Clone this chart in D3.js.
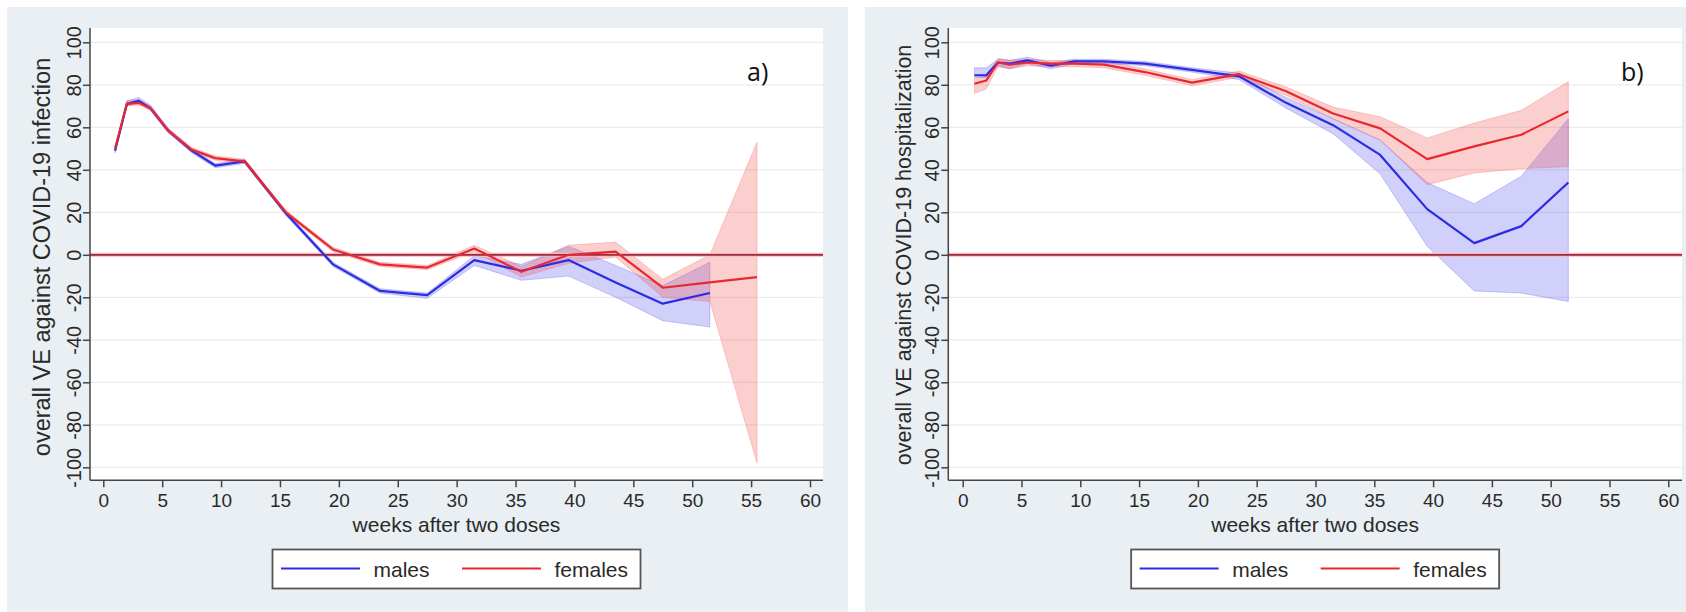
<!DOCTYPE html>
<html><head><meta charset="utf-8">
<script src="https://cdn.jsdelivr.net/npm/d3@7"></script>
<style>body{margin:0;background:#fff}svg{display:block}</style>
</head><body>
<svg id="c" width="1686" height="612"></svg>
<script>
// ---------- data ----------
const xTicks = [0,5,10,15,20,25,30,35,40,45,50,55,60];
const yTicks = [-100,-80,-60,-40,-20,0,20,40,60,80,100];
const seriesNames = ["males","females"];
const panelLabels = ["a)","b)"];
const yTitles = ["overall VE against COVID-19 infection","overall VE against COVID-19 hospitalization"];
const xTitle = "weeks after two doses";

// panel a: infection
const weeksA_m = [1,2,3,4,5.5,7.5,9.5,12,15.5,19.5,23.5,27.5,31.5,35.5,39.5,43.5,47.5,51.5];
const veA_m    = [49,71,72.5,69,58.5,49,42,44,19.5,-4.5,-17,-19,-2.5,-7.5,-2.5,-13,-23,-18];
const loA_m    = [48,70,71.5,68,57.5,48,41,43,18.5,-5.5,-18,-20.5,-5,-12,-10,-20,-31,-34];
const hiA_m    = [50.5,72.5,74,70.5,59.5,50,43,45,20.5,-3.5,-16,-18,-0.5,-4.5,4,-5,-14.5,-3.5];
const weeksA_f = [1,2,3,4,5.5,7.5,9.5,12,15.5,19.5,23.5,27.5,31.5,35.5,39.5,43.5,47.5,51.5,55.5];
const veA_f    = [50,71,71.5,69,58.5,49.5,45.5,44,20,2.5,-4.5,-6,3,-8,0,1.5,-15.5,-13,-10.5];
const loA_f    = [49,70,70.5,68,57.5,48.5,44.5,43,19,1.5,-5.5,-7,1.5,-10.5,-4,-1,-20,-22,-98];
const hiA_f    = [51,72.5,73,70,59.5,50.5,46.5,45,21,3.5,-3.5,-5,4.5,-5.5,4.5,6,-11.5,0,53];

// panel b: hospitalization
const weeksB = [1,2,3,4,5.5,7.5,9.5,12,15.5,19.5,23.5,27.5,31.5,35.5,39.5,43.5,47.5,51.5];
const veB_m  = [84.5,84.5,90.5,90,91.5,89,91,91,90,87,84,71.5,61,47,21.5,5.5,13.5,34];
const loB_m  = [83.5,83.5,89,87.5,90,87.5,90,90,89,86,82.5,69,57,38,4,-17,-18,-22];
const hiB_m  = [88,88,92,91.5,93,90.5,92,92,91,88,85.5,74,64,54,34,24,37,64];
const veB_f  = [80.5,82,90.5,89.5,90.5,90,90,89.5,86,81,85,77,66.5,59.5,45,51,56.5,67.5];
const loB_f  = [76,78,88.5,87.5,89,88.5,88.5,88,84.5,79.5,83.5,75,64,54,33,38.5,40.5,41.5];
const hiB_f  = [83,84,92.5,91.5,92,91.5,91.5,91,87.5,82.5,86.5,79,69.5,65,55,62,68,81.5];

// ---------- drawing ----------
const svg = d3.select("#c");
const FONT = "'Liberation Sans', Arial, sans-serif";
const colM = "#2b2be6", colF = "#e8282e";
const bandM = "rgba(60,60,235,0.24)", bandF = "rgba(245,70,70,0.26)";

function zip(w, v, lo, hi){ return w.map((d,i)=>({x:d, y:v[i], lo:lo[i], hi:hi[i]})); }

function panel(cfg){
  const g = svg.append("g");
  g.append("rect").attr("x",cfg.bgX0).attr("y",7).attr("width",cfg.bgX1-cfg.bgX0).attr("height",612-7).attr("fill","#e9eff2");
  const x = d3.scaleLinear().domain([0,60]).range([cfg.x0, cfg.x60]);
  const y = d3.scaleLinear().domain([-100,100]).range([467.3, 42.3]);
  const top = 28, bottom = 480.3;
  g.append("rect").attr("x",cfg.axX).attr("y",top).attr("width",cfg.right-cfg.axX).attr("height",bottom-top).attr("fill","#fff");
  // grid
  g.selectAll(".grid").data(yTicks).join("line")
    .attr("x1",cfg.axX).attr("x2",cfg.right).attr("y1",d=>y(d)).attr("y2",d=>y(d))
    .attr("stroke","#ececec").attr("stroke-width",1.3);
  // bands
  const area = d3.area().x(d=>x(d.x)).y0(d=>y(d.lo)).y1(d=>y(d.hi));
  const line = d3.line().x(d=>x(d.x)).y(d=>y(d.y));
  g.append("path").attr("d",area(cfg.m)).attr("fill",bandM).attr("stroke","rgba(60,60,235,0.25)").attr("stroke-width",1);
  g.append("path").attr("d",area(cfg.f)).attr("fill",bandF).attr("stroke","rgba(245,70,70,0.25)").attr("stroke-width",1);
  // zero line
  g.append("line").attr("x1",cfg.axX).attr("x2",cfg.right).attr("y1",y(0)).attr("y2",y(0))
    .attr("stroke","#f3b9bf").attr("stroke-width",4);
  g.append("line").attr("x1",cfg.axX).attr("x2",cfg.right).attr("y1",y(0)).attr("y2",y(0))
    .attr("stroke","#9e2a3c").attr("stroke-width",1.8);
  // lines
  g.append("path").attr("d",line(cfg.m)).attr("fill","none").attr("stroke",colM).attr("stroke-width",2.2).attr("stroke-linejoin","round");
  g.append("path").attr("d",line(cfg.f)).attr("fill","none").attr("stroke",colF).attr("stroke-width",2.2).attr("stroke-linejoin","round");
  // axes
  const xa = d3.axisBottom(x).tickValues(xTicks).tickSize(7).tickPadding(6).tickFormat(d3.format("d"));
  const gx = g.append("g").attr("transform",`translate(0,${bottom})`).call(xa);
  gx.select(".domain").remove();
  gx.append("line").attr("x1",cfg.axX).attr("x2",cfg.right).attr("stroke","#444").attr("stroke-width",1.5);
  gx.selectAll(".tick line").attr("stroke","#444").attr("stroke-width",1.5);
  gx.selectAll(".tick text").attr("font-family",FONT).attr("font-size",19).attr("fill","#2a2a2a");
  const ya = d3.axisLeft(y).tickValues(yTicks).tickSize(7).tickFormat(d=>d<0?"-"+Math.abs(d):String(d));
  const gy = g.append("g").attr("transform",`translate(${cfg.axX},0)`).call(ya);
  gy.select(".domain").remove();
  gy.append("line").attr("y1",top).attr("y2",bottom).attr("stroke","#444").attr("stroke-width",1.5);
  gy.selectAll(".tick line").attr("stroke","#444").attr("stroke-width",1.5);
  gy.selectAll(".tick text").attr("font-family",FONT).attr("font-size",20).attr("fill","#2a2a2a")
    .attr("x",null).attr("dy",null)
    .attr("text-anchor","middle")
    .attr("transform","translate(-9,0) rotate(-90)");
  // titles
  const cx = (cfg.axX+cfg.right)/2;
  g.append("text").attr("x",cx).attr("y",532).attr("text-anchor","middle")
    .attr("font-family",FONT).attr("font-size",21).attr("fill","#2a2a2a").text(xTitle);
  g.append("text").attr("transform",`translate(${cfg.axX-cfg.ytOff},${cfg.ytY}) rotate(-90)`).attr("text-anchor","middle")
    .attr("font-family",FONT).attr("font-size",cfg.ytSize).attr("fill","#2a2a2a").text(cfg.yTitle);
  g.append("text").attr("x",cfg.labX).attr("y",81).attr("font-family","'Open Sans', sans-serif")
    .attr("font-size",25).attr("fill","#111").text(cfg.label);
  // legend
  const lw = 368, lx = cx - lw/2, ly = 549.5;
  const lg = g.append("g");
  lg.append("rect").attr("x",lx).attr("y",ly).attr("width",lw).attr("height",39).attr("fill","#fff").attr("stroke","#555").attr("stroke-width",1.8);
  const items = [{n:seriesNames[0],c:colM,off:8.5,to:101},{n:seriesNames[1],c:colF,off:189.5,to:282}];
  items.forEach(it=>{
    lg.append("line").attr("x1",lx+it.off).attr("x2",lx+it.off+79).attr("y1",ly+19).attr("y2",ly+19).attr("stroke",it.c).attr("stroke-width",2.2);
    lg.append("text").attr("x",lx+it.to).attr("y",ly+27.5).attr("font-family",FONT).attr("font-size",21).attr("fill","#2a2a2a").text(it.n);
  });
}

panel({bgX0:7,bgX1:848,axX:90,right:823,x0:103.3,x60:810,ytOff:40,ytY:257,ytSize:23.5,labX:747,label:panelLabels[0],yTitle:yTitles[0],
  m:zip(weeksA_m,veA_m,loA_m,hiA_m), f:zip(weeksA_f,veA_f,loA_f,hiA_f)});
panel({bgX0:865,bgX1:1686,axX:948.3,right:1682,x0:962.7,x60:1668.3,ytOff:37,ytY:255,ytSize:21.5,labX:1621,label:panelLabels[1],yTitle:yTitles[1],
  m:zip(weeksB,veB_m,loB_m,hiB_m), f:zip(weeksB,veB_f,loB_f,hiB_f)});
</script>
</body></html>
